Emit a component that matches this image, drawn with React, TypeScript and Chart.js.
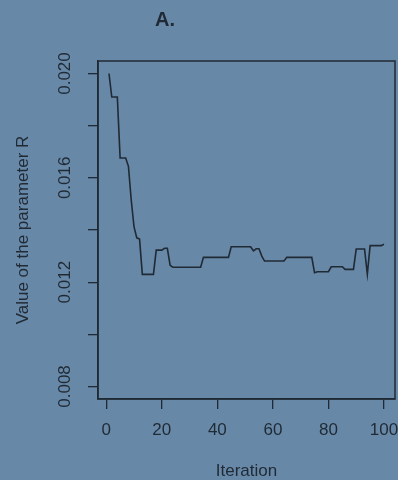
import React, { useEffect, useRef } from 'react';
import { Chart, registerables } from 'chart.js';

Chart.register(...registerables);

// Value of the parameter R at iterations 1..100
const parameterR = [
  0.0200, 0.0191, 0.0191, 0.0191, 0.01676, 0.01676, 0.01676, 0.01644, 0.01515, 0.01413,
  0.0137, 0.01365, 0.0123, 0.0123, 0.0123, 0.0123, 0.0123, 0.01323, 0.01323, 0.01323,
  0.0133, 0.0133, 0.01265, 0.01257, 0.01257, 0.01257, 0.01257, 0.01257, 0.01257, 0.01257,
  0.01257, 0.01257, 0.01257, 0.01257, 0.01295, 0.01295, 0.01295, 0.01295, 0.01295, 0.01295,
  0.01295, 0.01295, 0.01295, 0.01295, 0.01336, 0.01336, 0.01336, 0.01336, 0.01336, 0.01336,
  0.01336, 0.01336, 0.0132, 0.01328, 0.01328, 0.0130, 0.01281, 0.01281, 0.01281, 0.01281,
  0.01281, 0.01281, 0.01281, 0.01281, 0.01295, 0.01295, 0.01295, 0.01295, 0.01295, 0.01295,
  0.01295, 0.01295, 0.01295, 0.01295, 0.01236, 0.0124, 0.0124, 0.0124, 0.0124, 0.0124,
  0.01259, 0.01259, 0.01259, 0.01259, 0.01259, 0.01249, 0.01249, 0.01249, 0.01249, 0.01327,
  0.01327, 0.01327, 0.01327, 0.0123, 0.0134, 0.0134, 0.0134, 0.0134, 0.0134, 0.01345,
];

const xTicks = [0, 20, 40, 60, 80, 100];
const yTicks = [0.008, 0.010, 0.012, 0.014, 0.016, 0.018, 0.020];
const yLabelled = [0.008, 0.012, 0.016, 0.020];

const titleText = 'A.';
const xTitle = 'Iteration';
const yTitle = 'Value of the parameter R';

const BG = '#6888a8';
const INK = '#1f2a34';
const FONT = '"Liberation Sans", Arial, Helvetica, sans-serif';

export default function App() {
  const ref = useRef<HTMLCanvasElement | null>(null);

  useEffect(() => {
    document.body.style.margin = '0';
    const canvas = ref.current;
    if (!canvas) return;

    const bgPlugin = {
      id: 'bg',
      beforeDraw(chart: any) {
        const { ctx, width, height } = chart;
        ctx.save();
        ctx.fillStyle = BG;
        ctx.fillRect(0, 0, width, height);
        ctx.restore();
      },
    };

    const boxPlugin = {
      id: 'box',
      afterDraw(chart: any) {
        const { ctx, chartArea } = chart;
        ctx.save();
        ctx.strokeStyle = INK;
        ctx.lineWidth = 1.5;
        ctx.strokeRect(chartArea.left, chartArea.top, chartArea.right - chartArea.left, chartArea.bottom - chartArea.top);
        ctx.fillStyle = INK;
        ctx.font = `bold 20px ${FONT}`;
        ctx.textAlign = 'left';
        ctx.textBaseline = 'alphabetic';
        ctx.fillText(titleText, 155, 26);
        ctx.restore();
      },
    };

    const chart = new Chart(canvas, {
      type: 'line',
      data: {
        datasets: [
          {
            data: parameterR.map((v, i) => ({ x: i + 1, y: v })),
            borderColor: INK,
            borderWidth: 1.6,
            pointRadius: 0,
            tension: 0,
            fill: false,
          },
        ],
      },
      options: {
        responsive: false,
        animation: false,
        layout: { padding: { top: 61, right: 3, left: 0, bottom: 0 } },
        plugins: {
          legend: { display: false },
          tooltip: { enabled: false },
          title: { display: false },
        },
        scales: {
          x: {
            type: 'linear',
            min: -2.96,
            max: 103.96,
            afterBuildTicks: (s: any) => {
              s.ticks = xTicks.map((v) => ({ value: v }));
            },
            afterFit: (s: any) => {
              s.height = 81;
              s.paddingLeft = 0;
              s.paddingRight = 0;
            },
            grid: {
              display: true,
              drawOnChartArea: false,
              drawTicks: true,
              tickLength: 10,
              color: INK,
              lineWidth: 1.3,
            },
            border: { display: true, color: INK, width: 1.5 },
            ticks: {
              color: INK,
              font: { family: FONT, size: 17 },
              padding: 11,
              maxRotation: 0,
              minRotation: 0,
              autoSkip: false,
              callback: (v: any) => String(v),
            },
            title: {
              display: true,
              text: xTitle,
              color: INK,
              font: { family: FONT, size: 17, lineHeight: 1 },
              padding: { top: 0, bottom: 0 },
            },
          },
          y: {
            type: 'linear',
            min: 0.00752,
            max: 0.02048,
            afterBuildTicks: (s: any) => {
              s.ticks = yTicks.map((v) => ({ value: v }));
            },
            afterFit: (s: any) => {
              s.width = 98;
              s.paddingTop = 0;
              s.paddingBottom = 0;
            },
            grid: {
              display: true,
              drawOnChartArea: false,
              drawTicks: true,
              tickLength: 10,
              color: INK,
              lineWidth: 1.3,
            },
            border: { display: true, color: INK, width: 1.5 },
            ticks: {
              color: INK,
              font: { family: FONT, size: 17 },
              padding: 1,
              minRotation: 90,
              maxRotation: 90,
              crossAlign: 'center',
              autoSkip: false,
              callback: (v: any) =>
                yLabelled.some((t) => Math.abs(t - Number(v)) < 1e-9) ? Number(v).toFixed(3) : '',
            },
            title: {
              display: true,
              text: yTitle,
              color: INK,
              font: { family: FONT, size: 17, lineHeight: 1 },
              padding: { top: 14.5, bottom: 0 },
            },
          },
        },
      },
      plugins: [bgPlugin, boxPlugin],
    } as any);

    return () => chart.destroy();
  }, []);

  return (
    <div style={{ position: 'absolute', left: 0, top: 0, width: 398, height: 480, background: BG }}>
      <canvas ref={ref} width={398} height={480} style={{ display: 'block' }} />
    </div>
  );
}
